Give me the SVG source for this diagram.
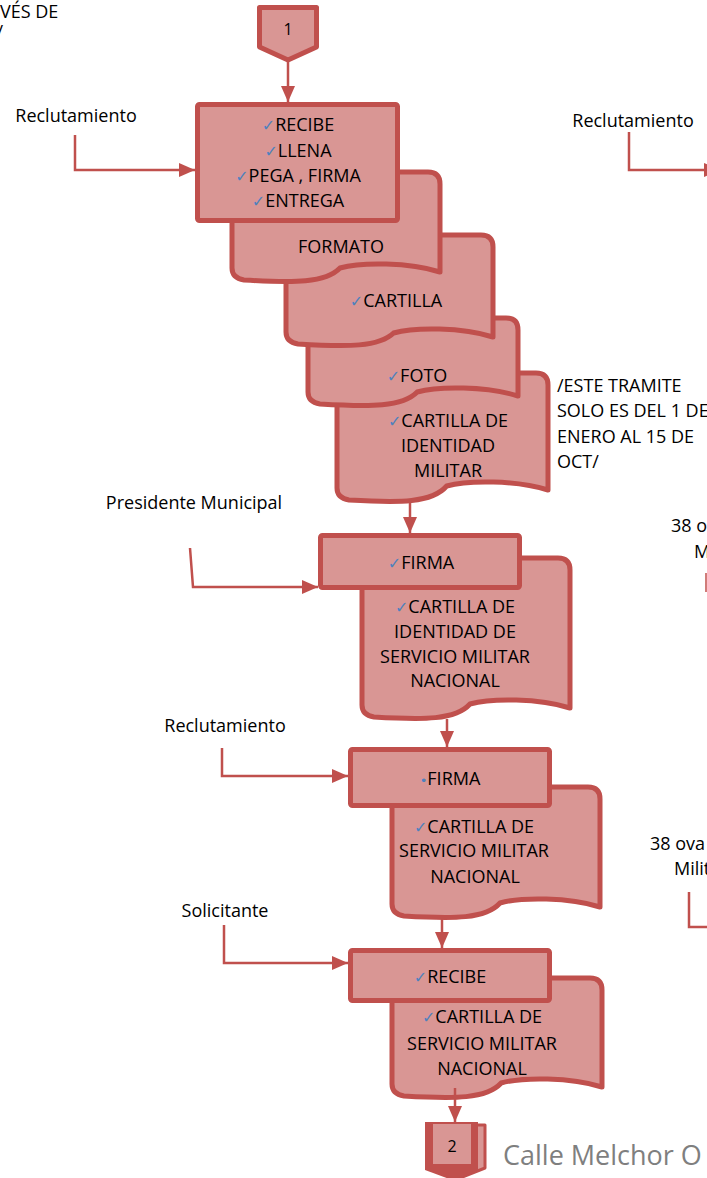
<svg xmlns="http://www.w3.org/2000/svg" width="707" height="1178" viewBox="0 0 707 1178">
<style>
  .bg{fill:#ffffff}
  .shape{fill:#D99694;stroke:#C0504D;stroke-width:5;stroke-linejoin:round}
  .t{font-family:"Open Sans","Liberation Sans",sans-serif;font-size:18px;fill:#000000}
  .c{text-anchor:middle}
  .chk{font-family:"DejaVu Sans",sans-serif;font-size:16px;fill:#4F81BD}
  .conn{fill:none;stroke:#C0504D;stroke-width:2.5}
  .grey{font-family:"Open Sans","Liberation Sans",sans-serif;font-size:27px;fill:#7F7F7F}
</style>
<defs>
  <marker id="ah" markerUnits="userSpaceOnUse" markerWidth="16" markerHeight="14" refX="16" refY="7" orient="auto">
    <path d="M0,0 L16,7 L0,14 Z" fill="#C0504D"/>
  </marker>
</defs>
<rect class="bg" x="0" y="0" width="707" height="1178"/>

<!-- free texts -->
<g id="labels">
  <text class="t" x="0" y="18">VÉS DE</text>
  <text class="t" x="3" y="38" text-anchor="end">/</text>
  <text class="t c" x="76" y="122">Reclutamiento</text>
  <text class="t c" x="633" y="127">Reclutamiento</text>
  <text class="t" x="557" y="392">/ESTE TRAMITE</text>
  <text class="t" x="557" y="417">SOLO ES DEL 1 DE</text>
  <text class="t" x="557" y="443">ENERO AL 15 DE</text>
  <text class="t" x="557" y="468">OCT/</text>
  <text class="t c" x="194" y="509">Presidente Municipal</text>
  <text class="t" x="671" y="532">38 o</text>
  <text class="t" x="694" y="558">M</text>
  <text class="t c" x="225" y="732">Reclutamiento</text>
  <text class="t" x="650" y="850">38 ova</text>
  <text class="t" x="674" y="875">Milit</text>
  <text class="t c" x="225" y="917">Solicitante</text>
  <text class="grey" x="503" y="1165">Calle Melchor O</text>
</g>

<!-- connector 1 -->
<g id="conector1">
  <path class="shape" d="M259.5,7.5 H316.5 V47 L288,60 L259.5,47 Z"/>
  <text class="t c" x="288" y="35" style="font-size:16px">1</text>
</g>

<!-- first stack: drawn back to front -->
<g id="doc4">
  <path class="shape" d="M337,383 Q337,373 347,373 H536 Q548,373 548,385 V490 C516.3,480 467.8,480 446.7,486 C432,503 400.3,503 349,500 Q337,498 337,488 Z"/>
  <text class="t c" x="448" y="427"><tspan class="chk">✓</tspan>CARTILLA DE</text>
  <text class="t c" x="448" y="452">IDENTIDAD</text>
  <text class="t c" x="448" y="477">MILITAR</text>
</g>
<g id="doc3">
  <path class="shape" d="M308,328 Q308,318 318,318 H506 Q518,318 518,330 V396 C486.5,386 438.2,386 417.2,392 C402.5,407 371,407 320,404 Q308,402 308,392 Z"/>
  <text class="t c" x="417" y="382"><tspan class="chk">✓</tspan>FOTO</text>
</g>
<g id="doc2">
  <path class="shape" d="M286,245 Q286,235 296,235 H481 Q493,235 493,247 V337 C462,327 414.3,327 393.6,333 C379.2,347 348.1,347 298,344 Q286,342 286,332 Z"/>
  <text class="t c" x="396" y="307"><tspan class="chk">✓</tspan>CARTILLA</text>
</g>
<g id="doc1">
  <path class="shape" d="M232,182 Q232,172 242,172 H428 Q440,172 440,184 V272 C408.8,262 361,262 340,268 C325.6,283 294.4,283 244,280 Q232,278 232,268 Z"/>
  <text class="t c" x="341" y="253">FORMATO</text>
</g>
<g id="proc1">
  <rect class="shape" x="197.5" y="104.5" width="200" height="116" rx="2"/>
  <text class="t c" x="298" y="131"><tspan class="chk">✓</tspan>RECIBE</text>
  <text class="t c" x="298" y="157"><tspan class="chk">✓</tspan>LLENA</text>
  <text class="t c" x="298" y="182"><tspan class="chk">✓</tspan>PEGA , FIRMA</text>
  <text class="t c" x="298" y="207"><tspan class="chk">✓</tspan>ENTREGA</text>
</g>

<!-- second block -->
<g id="doc5">
  <path class="shape" d="M362,568 Q362,558 372,558 H558 Q570,558 570,570 V708 C538.8,698 491,698 470,704 C455.6,720 424.4,720 374,717 Q362,715 362,705 Z"/>
  <text class="t c" x="455" y="613"><tspan class="chk">✓</tspan>CARTILLA  DE</text>
  <text class="t c" x="455" y="638">IDENTIDAD DE</text>
  <text class="t c" x="455" y="663">SERVICIO MILITAR</text>
  <text class="t c" x="455" y="687">NACIONAL</text>
</g>
<g id="proc2">
  <rect class="shape" x="320.5" y="535.5" width="199" height="52" rx="2"/>
  <text class="t c" x="421" y="569"><tspan class="chk">✓</tspan>FIRMA</text>
</g>

<!-- third block -->
<g id="doc6">
  <path class="shape" d="M392,797 Q392,787 402,787 H588 Q600,787 600,799 V907 C568.8,897 521,897 500,903 C485.6,919 454.4,919 404,916 Q392,914 392,904 Z"/>
  <text class="t c" x="474" y="833"><tspan class="chk">✓</tspan>CARTILLA  DE</text>
  <text class="t c" x="474" y="857">SERVICIO MILITAR</text>
  <text class="t c" x="475" y="883">NACIONAL</text>
</g>
<g id="proc3">
  <rect class="shape" x="350.5" y="749.5" width="199" height="56" rx="2"/>
  <text class="t c" x="450" y="785"><tspan class="chk" style="font-size:13px">•</tspan>FIRMA</text>
</g>

<!-- fourth block -->
<g id="doc7">
  <path class="shape" d="M392,988 Q392,978 402,978 H590 Q602,978 602,990 V1087 C570.5,1077 522.2,1077 501.2,1083 C486.5,1099 455,1099 404,1096 Q392,1094 392,1084 Z"/>
  <text class="t c" x="482" y="1023"><tspan class="chk">✓</tspan>CARTILLA DE</text>
  <text class="t c" x="482" y="1050">SERVICIO MILITAR</text>
  <text class="t c" x="482" y="1075">NACIONAL</text>
</g>
<g id="proc4">
  <rect class="shape" x="350.5" y="950.5" width="199" height="50" rx="2"/>
  <text class="t c" x="450" y="983"><tspan class="chk">✓</tspan>RECIBE</text>
</g>

<!-- connector 2 -->
<g id="conector2">
  <path d="M436,1125 H485 V1168 L460,1178 L436,1168 Z" fill="#D99694" stroke="#C0504D" stroke-width="3" stroke-linejoin="round"/>
  <path d="M425,1122 H478 V1170 L452,1180 L425,1170 Z" fill="#C0504D"/>
  <rect x="433" y="1124" width="38" height="40" fill="#D99694"/>
  <text class="t c" x="452" y="1152" style="font-size:16px">2</text>
</g>

<!-- connectors -->
<g id="connectors">
  <path class="conn" d="M288,62 V102" marker-end="url(#ah)"/>
  <path class="conn" d="M75,135 V170 H195" marker-end="url(#ah)"/>
  <path class="conn" d="M629,132 V170 H720" marker-end="url(#ah)"/>
  <path class="conn" d="M410,500 V533" marker-end="url(#ah)"/>
  <path class="conn" d="M190,548 L193,587 H318" marker-end="url(#ah)"/>
  <path class="conn" d="M447,719 V747" marker-end="url(#ah)"/>
  <path class="conn" d="M222,748 V776 H348" marker-end="url(#ah)"/>
  <path class="conn" d="M442,918 V948" marker-end="url(#ah)"/>
  <path class="conn" d="M224,925 V963 H348" marker-end="url(#ah)"/>
  <path class="conn" d="M455,1088 V1122" marker-end="url(#ah)"/>
  <path class="conn" d="M689,892 V927 H710"/>
  <path class="conn" d="M706,573 V592" style="stroke-width:1.5"/>
</g>
</svg>
